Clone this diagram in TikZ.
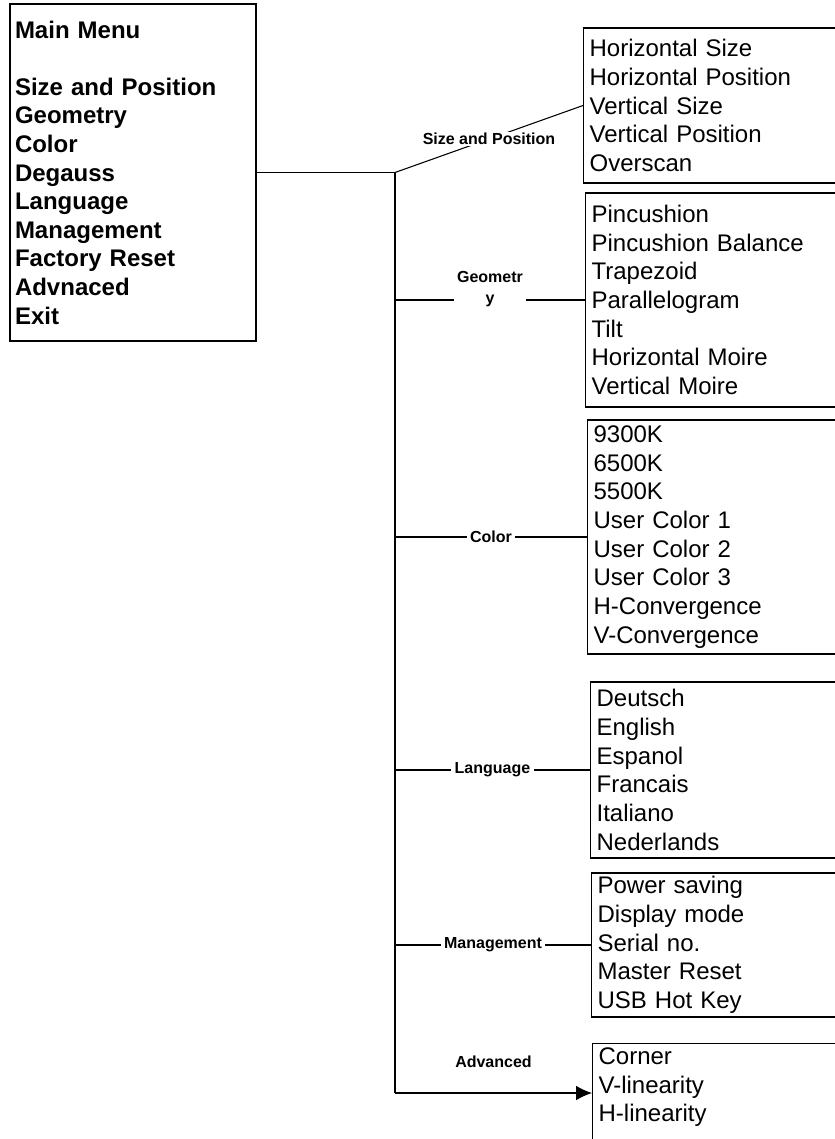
\documentclass[tikz,border=0pt]{standalone}
\usepackage{fontspec}
\setmainfont{Liberation Sans}
\usetikzlibrary{arrows.meta}
\begin{document}
\begin{tikzpicture}[x=0.75pt,y=-0.75pt,
  mainbox/.style={draw,line width=0.9pt,rectangle,align=left,text width=177pt,
    inner xsep=3.75pt,inner ysep=0pt,font=\fontsize{18}{21.45}\selectfont\bfseries},
  subbox/.style={draw,line width=0.9pt,rectangle,anchor=west,align=left,text width=225pt,
    inner xsep=4.5pt,inner ysep=0pt,font=\fontsize{18}{21.5}\selectfont},
  lbl/.style={font=\fontsize{12}{15.75}\selectfont\bfseries,fill=white,inner xsep=2.5pt,inner ysep=1pt},
  conn/.style={line width=0.8pt}]
\useasboundingbox (0,0) rectangle (835,1139);
\clip (0,0) rectangle (835,1139);
\fill[white] (0,0) rectangle (835,1139);

\node[mainbox,minimum height=252.75pt] (main) at (133,172.5)
  {Main Menu\\\mbox{}\\Size and Position\\Geometry\\Color\\Degauss\\Language\\Management\\Factory Reset\\Advnaced\\Exit};

\node[subbox,minimum height=116.25pt] (sp) at (583,105.5)
  {Horizontal Size\\Horizontal Position\\Vertical Size\\Vertical Position\\Overscan};
\node[subbox,minimum height=160.5pt] (geo) at (585,300)
  {Pincushion\\Pincushion Balance\\Trapezoid\\Parallelogram\\Tilt\\Horizontal Moire\\Vertical Moire};
\node[subbox,minimum height=175.5pt] (col) at (587,537)
  {9300K\\6500K\\5500K\\User Color 1\\User Color 2\\User Color 3\\H-Convergence\\V-Convergence};
\node[subbox,minimum height=132pt] (lang) at (590,770)
  {Deutsch\\English\\Espanol\\Francais\\Italiano\\Nederlands};
\node[subbox,minimum height=108pt] (mgmt) at (591,945)
  {Power saving\\Display mode\\Serial no.\\Master Reset\\USB Hot Key};
\node[subbox,anchor=north west,inner ysep=3pt,text depth=90pt] (adv) at (592,1043)
  {Corner\\V-linearity\\H-linearity};

\coordinate (c0) at (395,172.5);
\coordinate (c6) at (395,1093);

\draw[conn] (main.east) -- (c0);
\draw[conn] (c0) -- node[lbl]{Size and Position} (sp.west);
\draw[conn] (c0) -- (c6);
\draw[conn] (c0 |- geo.west) -- node[lbl,align=center,anchor=mid]{Geometr\\y} (geo.west);
\draw[conn] (c0 |- col.west) -- node[lbl]{Color} (col.west);
\draw[conn] (c0 |- lang.west) -- node[lbl]{Language} (lang.west);
\draw[conn] (c0 |- mgmt.west) -- node[lbl]{Management} (mgmt.west);
\draw[conn,-{Latex[length=12pt,width=11pt]}] (c6) -- node[lbl,yshift=23.25pt]{Advanced} (adv.west |- c6);
\end{tikzpicture}
\end{document}
